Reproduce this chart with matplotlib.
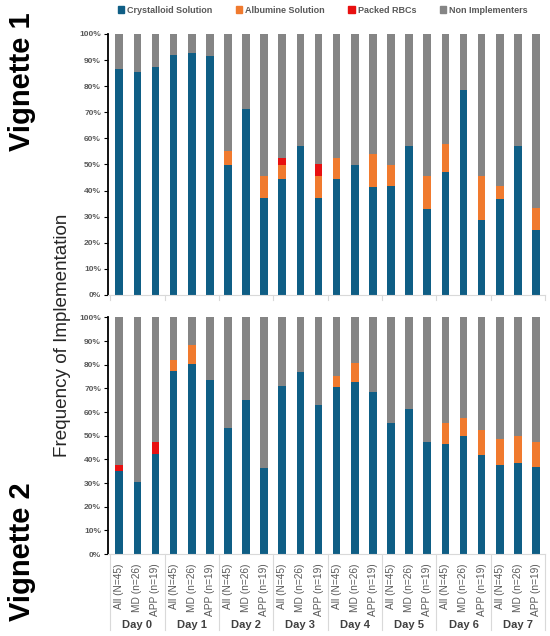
import numpy as np
import matplotlib.pyplot as plt
from matplotlib.patches import Patch

# groups and sub groups on the x axis
days = ["Day 0", "Day 1", "Day 2", "Day 3", "Day 4", "Day 5", "Day 6", "Day 7"]
groups = ["All (N=45)", "MD (n=26)", "APP (n=19)"]

# Vignette 1 (percent)
v1_crystalloid = [86.7, 85.6, 87.4, 92.1, 92.8, 91.6, 49.8, 71.4, 37.3, 44.3, 57.1, 37.3,
                  44.4, 49.9, 41.5, 41.9, 57.1, 33.0, 47.1, 78.5, 28.9, 36.7, 57.1, 24.9]
v1_albumine = [0, 0, 0, 0, 0, 0, 5.4, 0, 8.3, 5.6, 0, 8.4,
               8.1, 0, 12.5, 8.0, 0, 12.6, 10.8, 0, 16.7, 5.2, 0, 8.3]
v1_rbc = [0, 0, 0, 0, 0, 0, 0, 0, 0, 2.6, 0, 4.4,
          0, 0, 0, 0, 0, 0, 0, 0, 0, 0, 0, 0]

# Vignette 2
v2_crystalloid = [35.2, 30.6, 42.3, 77.3, 80.3, 73.5, 53.2, 65.1, 36.5, 71.0, 76.8, 62.8,
                  70.8, 72.8, 68.3, 55.5, 61.5, 47.3, 46.5, 49.7, 42.0, 37.6, 38.3, 36.6]
v2_albumine = [0, 0, 0, 4.7, 7.9, 0, 0, 0, 0, 0, 0, 0,
               4.4, 7.8, 0, 0, 0, 0, 9.0, 7.9, 10.4, 11.0, 11.6, 10.7]
v2_rbc = [2.4, 0, 4.9, 0, 0, 0, 0, 0, 0, 0, 0, 0,
          0, 0, 0, 0, 0, 0, 0, 0, 0, 0, 0, 0]

colors = {"Crystalloid Solution": "#0F5E85", "Albumine Solution": "#F07A2E",
          "Packed RBCs": "#E81010", "Non Implementers": "#858585"}

font = ["Liberation Sans Narrow", "Liberation Sans", "DejaVu Sans"]
plt.rcParams["font.family"] = font

fig = plt.figure(figsize=(5.5, 6.36), dpi=100)
ax1 = fig.add_axes([0.1964, 0.5362, 0.7945, 0.4104])
ax2 = fig.add_axes([0.1964, 0.1289, 0.7945, 0.3719])

x = np.arange(len(days) * len(groups))
w = 0.42


def draw(ax, crys, alb, rbc):
    crys = np.array(crys)
    alb = np.array(alb)
    rbc = np.array(rbc)
    non = 100 - crys - alb - rbc
    ax.bar(x, crys, w, color=colors["Crystalloid Solution"])
    ax.bar(x, alb, w, bottom=crys, color=colors["Albumine Solution"])
    ax.bar(x, rbc, w, bottom=crys + alb, color=colors["Packed RBCs"])
    ax.bar(x, non, w, bottom=crys + alb + rbc, color=colors["Non Implementers"])
    ax.set_xlim(-0.62, 23.5)
    ax.set_ylim(0, 100)
    ax.set_yticks(np.arange(0, 101, 10))
    ax.set_yticklabels([f"{v}%" for v in range(0, 101, 10)], fontsize=6,
                       color="#595959", fontweight="bold")
    ax.tick_params(axis="y", length=3, width=0.8, pad=2)
    for s in ["top", "right"]:
        ax.spines[s].set_visible(False)
    ax.spines["left"].set_linewidth(1.3)
    ax.spines["bottom"].set_color("#D9D9D9")
    ax.spines["bottom"].set_linewidth(0.8)
    ax.set_xticks([])


draw(ax1, v1_crystalloid, v1_albumine, v1_rbc)
draw(ax2, v2_crystalloid, v2_albumine, v2_rbc)

# group separator ticks for the top panel
for b in np.arange(-0.5, 24, 3):
    ax1.plot([b, b], [0, -2], color="#D9D9D9", lw=0.8, clip_on=False)

# two level category axis for the bottom panel
for b in np.arange(-0.5, 24, 3):
    ax2.plot([b, b], [0, -32], color="#D9D9D9", lw=0.8, clip_on=False)
for i, xi in enumerate(x):
    ax2.text(xi, -4, groups[i % 3], rotation=90, ha="center", va="top",
             fontsize=7.3, color="#595959")
for d, day in enumerate(days):
    ax2.text(d * 3 + 1, -30, day, ha="center", va="center", fontsize=8,
             color="#404040", fontweight="bold")

handles = [Patch(color=c, label=k) for k, c in colors.items()]
fig.legend(handles=handles, loc="center", bbox_to_anchor=(0.587, 0.984), ncol=4,
           frameon=False, handlelength=0.7, handleheight=0.7,
           handletextpad=0.35, columnspacing=2.6, borderaxespad=0,
           prop={"family": font, "size": 6.5, "weight": "bold"})
for t in fig.legends[0].get_texts():
    t.set_color("#595959")

fig.text(0.04, 0.871, "Vignette 1", rotation=90, ha="center", va="center",
         fontsize=21, fontweight="bold", family=["Liberation Sans", "DejaVu Sans"])
fig.text(0.04, 0.132, "Vignette 2", rotation=90, ha="center", va="center",
         fontsize=21, fontweight="bold", family=["Liberation Sans", "DejaVu Sans"])
fig.text(0.114, 0.473, "Frequency of Implementation", rotation=90, ha="center",
         va="center", fontsize=13.6, color="#262626", family=["Liberation Sans", "DejaVu Sans"])

fig.savefig("out.png", dpi=100)
